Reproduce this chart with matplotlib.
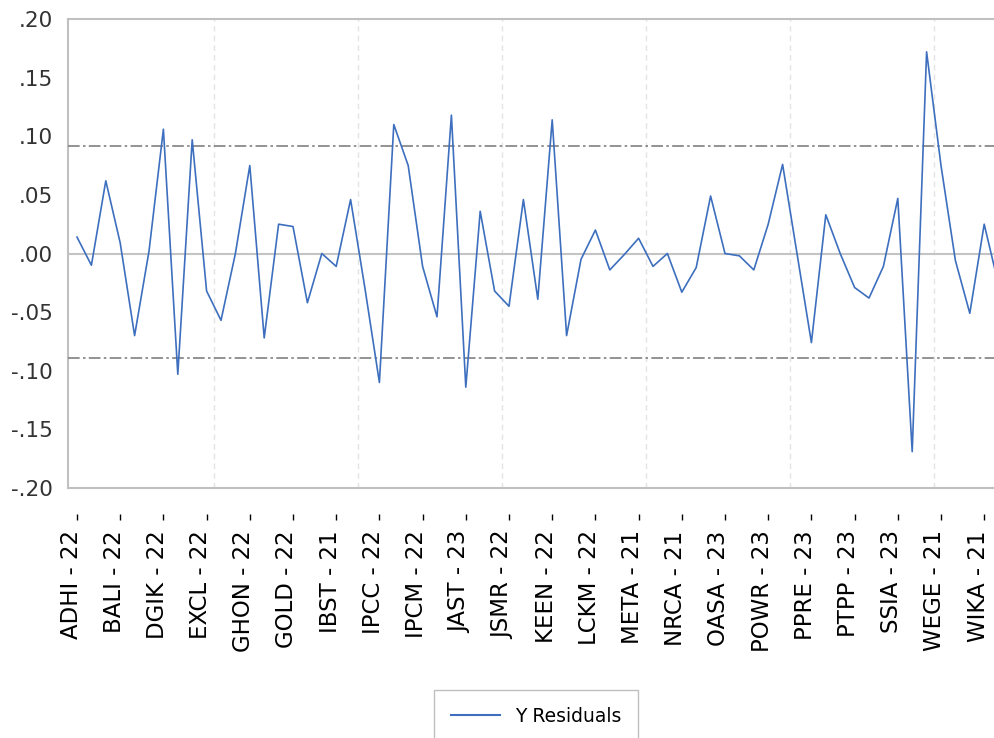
import matplotlib
matplotlib.use("Agg")
import matplotlib.pyplot as plt
import matplotlib.transforms as mtransforms
from matplotlib.lines import Line2D

residuals = [0.014, -0.010, 0.062, 0.009, -0.070, 0.002, 0.106, -0.103, 0.097, -0.032,
             -0.057, 0.000, 0.075, -0.072, 0.025, 0.023, -0.042, 0.000, -0.011, 0.046,
             -0.030, -0.110, 0.110, 0.075, -0.011, -0.054, 0.118, -0.114, 0.036, -0.032,
             -0.045, 0.046, -0.039, 0.114, -0.070, -0.005, 0.020, -0.014, -0.001, 0.013,
             -0.011, 0.000, -0.033, -0.012, 0.049, 0.000, -0.002, -0.014, 0.025, 0.076,
             0.000, -0.076, 0.033, 0.000, -0.029, -0.038, -0.011, 0.047, -0.169, 0.172,
             0.075, -0.006, -0.051, 0.025, -0.027]

tick_labels = ['ADHI - 22', 'BALI - 22', 'DGIK - 22', 'EXCL - 22', 'GHON - 22', 'GOLD - 22',
               'IBST - 21', 'IPCC - 22', 'IPCM - 22', 'JAST - 23', 'JSMR - 22', 'KEEN - 22',
               'LCKM - 22', 'META - 21', 'NRCA - 21', 'OASA - 23', 'POWR - 23', 'PPRE - 23',
               'PTPP - 23', 'SSIA - 23', 'WEGE - 21', 'WIKA - 21']
label_step = 3
grid_step = 10

se_upper = 0.092
se_lower = -0.089

y_ticks = [0.20, 0.15, 0.10, 0.05, 0.00, -0.05, -0.10, -0.15, -0.20]

line_color = '#3d6fbe'

fig = plt.figure(figsize=(9.95, 7.38), dpi=100)
ax = fig.add_axes([68 / 995, 250 / 738, 927 / 995, 469 / 738])

# ticks sit below the frame (moving the spine resets ticks, so do it first)
ax.spines['bottom'].set_position(('outward', 19))
ax.spines['bottom'].set_color('none')
ax.spines['right'].set_visible(False)
for s in ['left', 'top']:
    ax.spines[s].set_color('#c0c0c0')
    ax.spines[s].set_linewidth(1.5)

x = list(range(len(residuals)))
ax.plot(x, residuals, color=line_color, lw=1.2, zorder=5)

# reference lines
ax.axhline(0, color='#c4c4c4', lw=1.5, zorder=2)
ax.axhline(se_upper, color='#808080', lw=1.2, linestyle=(0, (7, 2, 1.5, 2)), zorder=3)
ax.axhline(se_lower, color='#808080', lw=1.2, linestyle=(0, (7, 2, 1.5, 2)), zorder=3)
for g in range(grid_step, len(residuals), grid_step):
    ax.axvline(g - 0.5, color='#e4e4e4', lw=1, linestyle=(0, (4, 3)), zorder=1)
ax.axhline(-0.20, color='#c0c0c0', lw=1.5, clip_on=False, zorder=4)

ax.set_xlim(-0.625, 63.75)
ax.set_ylim(-0.20, 0.20)

ax.set_yticks(y_ticks)
ax.set_yticklabels([('%.2f' % v).replace('0.', '.') for v in y_ticks])
ax.tick_params(axis='y', length=0, pad=11, labelsize=15.5, labelcolor='#333333')

ax.set_xticks(x[::label_step])
ax.set_xticklabels(tick_labels)
ax.tick_params(axis='x', direction='out', length=4.5, width=1, color='black', pad=7,
               labelsize=16.5, labelrotation=90, labelcolor='black')
offset = mtransforms.ScaledTranslation(-6 / 100, 0, fig.dpi_scale_trans)
for lab in ax.get_xticklabels():
    lab.set_transform(lab.get_transform() + offset)

handle = Line2D([], [], color=line_color, lw=1.5)
fig.legend([handle], ['Y Residuals'], loc='center', bbox_to_anchor=(536 / 995, 22 / 738),
           fontsize=13.5, frameon=True, fancybox=False, edgecolor='#b0b0b0',
           handlelength=2.6, handletextpad=0.8, borderpad=0.9, borderaxespad=0)

fig.savefig('out.png', dpi=100)
